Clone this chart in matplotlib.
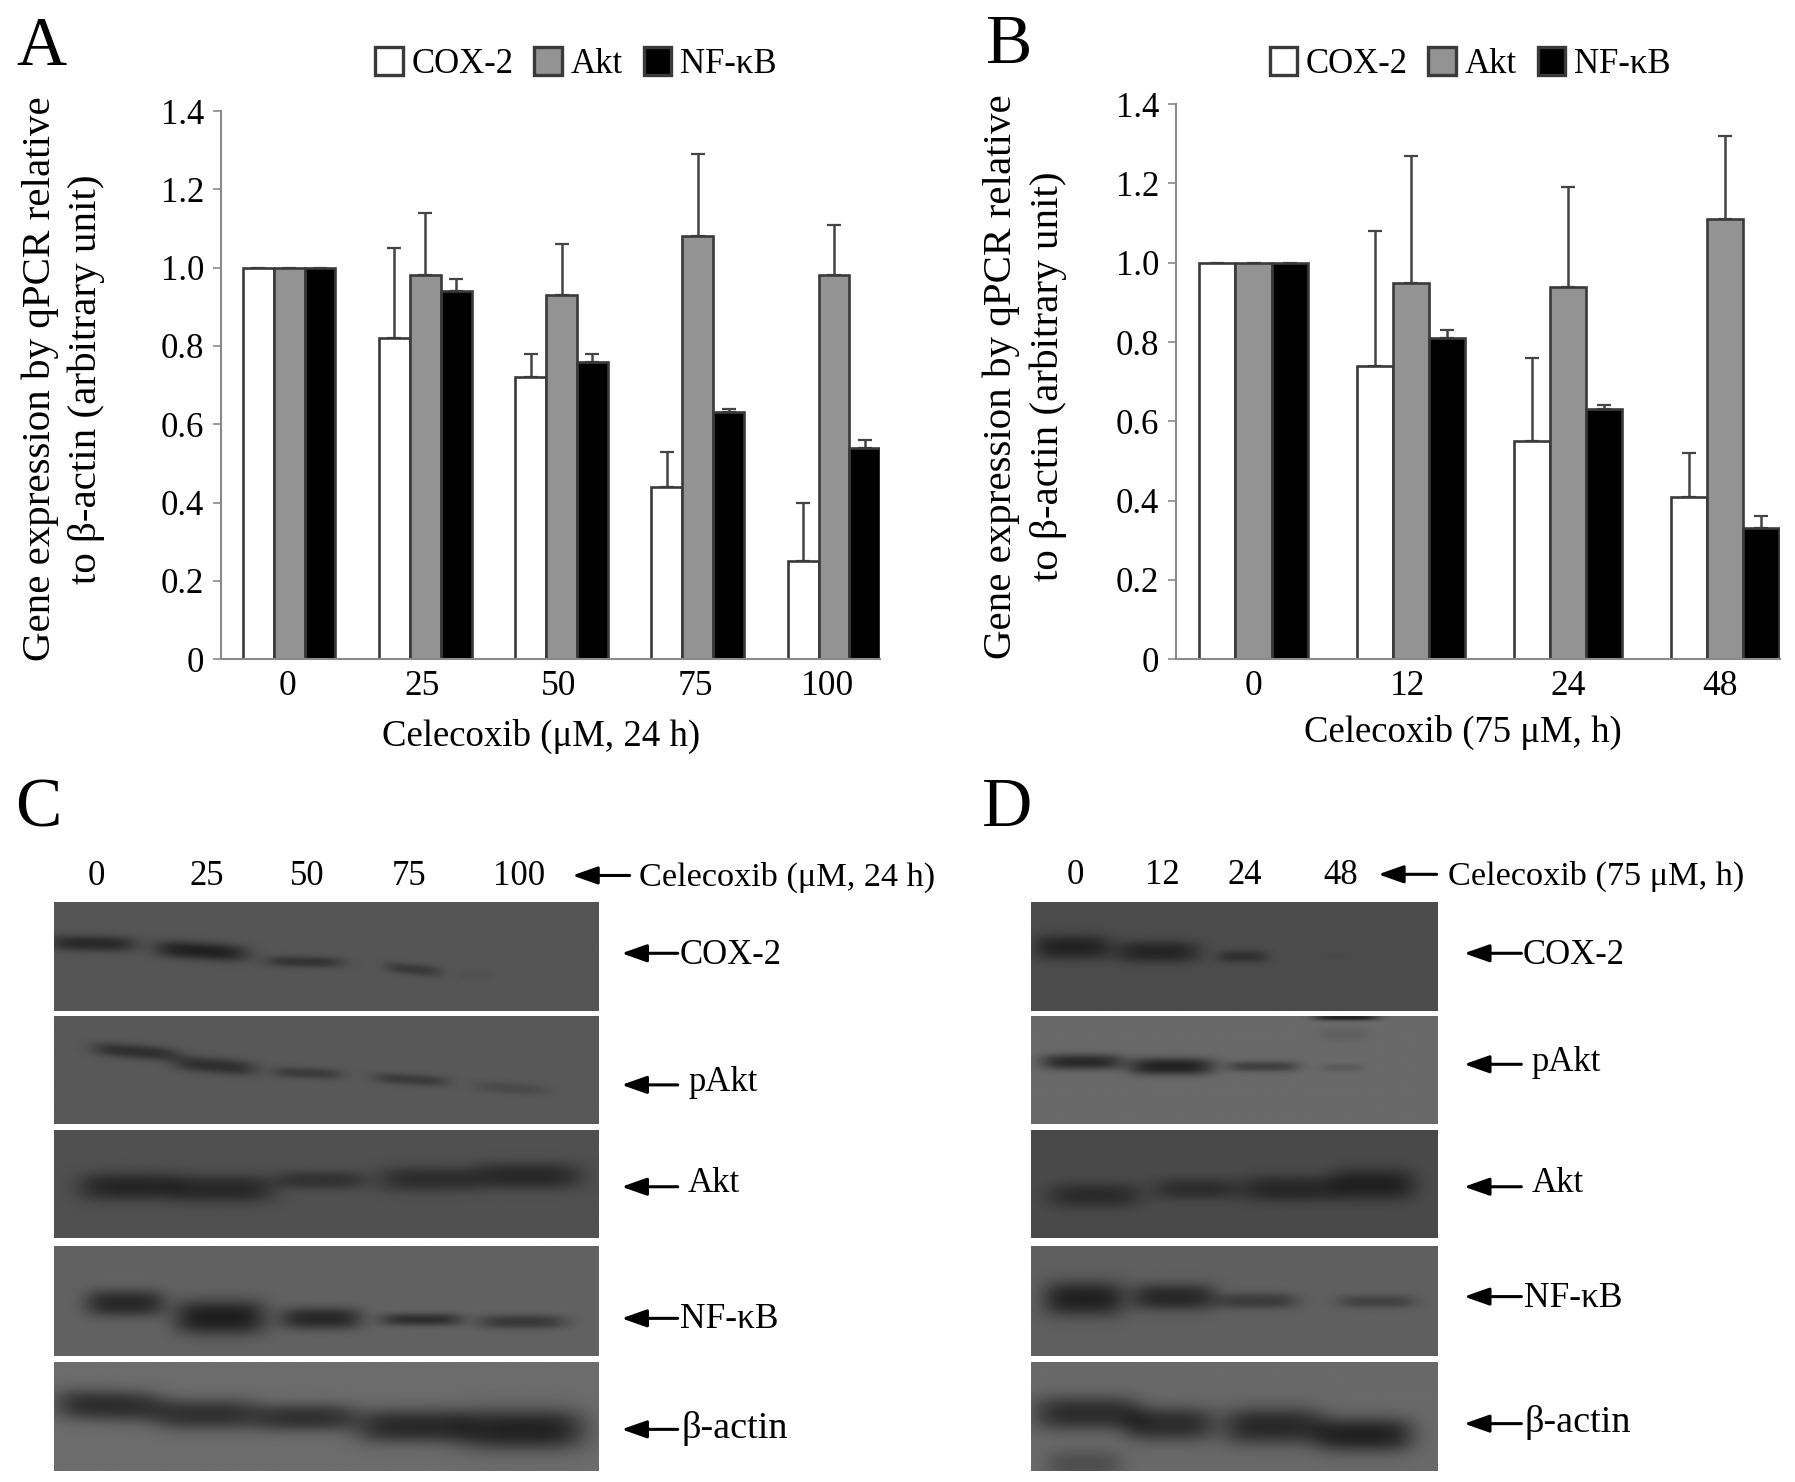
import numpy as np
import matplotlib
matplotlib.use("Agg")
import matplotlib.pyplot as plt

plt.rcParams['font.family'] = ['Liberation Serif', 'DejaVu Serif']

# bar data, panels A and B
doses = ['0', '25', '50', '75', '100']
cox_a = [1.0, 0.82, 0.72, 0.44, 0.25]
akt_a = [1.0, 0.98, 0.93, 1.08, 0.98]
nf_a = [1.0, 0.94, 0.76, 0.63, 0.54]
cox_a_err = [np.nan, 0.23, 0.06, 0.09, 0.15]
akt_a_err = [np.nan, 0.16, 0.13, 0.21, 0.13]
nf_a_err = [np.nan, 0.03, 0.02, 0.01, 0.02]

hours = ['0', '12', '24', '48']
cox_b = [1.0, 0.74, 0.55, 0.41]
akt_b = [1.0, 0.95, 0.94, 1.11]
nf_b = [1.0, 0.81, 0.63, 0.33]
cox_b_err = [np.nan, 0.34, 0.21, 0.11]
akt_b_err = [np.nan, 0.32, 0.25, 0.21]
nf_b_err = [np.nan, 0.02, 0.01, 0.03]

yticks = [0, 0.2, 0.4, 0.6, 0.8, 1.0, 1.2, 1.4]
ytick_labels = ['0', '0.2', '0.4', '0.6', '0.8', '1.0', '1.2', '1.4']
proteins = ['COX-2', 'pAkt', 'Akt', 'NF-κB', 'β-actin']
protein_sizes = [25, 25, 25, 25.5, 27.5]

# blot bands: x, y, half width, half thickness, strength, slope (fractions of the strip)
c_cox = [(.07, .38, .075, .05, .8, .1), (.27, .45, .08, .055, .95, .3), (.46, .55, .068, .035, .6, .1),
         (.66, .62, .048, .035, .5, .5), (.77, .67, .03, .03, .08, 0)]
c_pakt = [(.15, .33, .075, .045, .7, .4), (.295, .46, .072, .05, .7, .4), (.465, .53, .06, .035, .5, .2),
          (.655, .59, .065, .035, .5, .3), (.84, .67, .062, .035, .25, .3)]
c_akt = [(.14, .53, .09, .09, .85, 0), (.31, .55, .09, .09, .8, 0), (.49, .47, .08, .06, .6, 0),
         (.69, .46, .09, .08, .7, 0), (.87, .43, .095, .085, .8, 0)]
c_nf = [(.13, .52, .07, .085, .85, 0), (.305, .65, .08, .11, 1.0, 0), (.49, .66, .072, .07, .85, 0),
        (.675, .67, .072, .04, .75, 0), (.86, .69, .078, .045, .6, 0)]
c_actin = [(.10, .40, .095, .10, .8, .15), (.28, .48, .09, .10, .75, 0), (.46, .51, .09, .09, .75, 0),
           (.66, .59, .10, .11, .85, 0), (.86, .62, .11, .13, .95, 0)]
d_cox = [(.10, .415, .09, .08, .9, 0), (.31, .457, .10, .07, .85, 0), (.52, .50, .06, .04, .6, 0),
         (.75, .50, .025, .02, .08, 0)]
d_pakt = [(.125, .425, .095, .05, .85, 0), (.345, .467, .10, .055, .95, 0), (.57, .467, .085, .035, .55, 0),
          (.765, .48, .05, .025, .2, 0), (.775, .01, .075, .02, .95, 0), (.77, .175, .06, .04, .12, 0)]
d_akt = [(.155, .61, .11, .08, .7, 0), (.405, .55, .10, .07, .65, 0), (.635, .55, .115, .085, .8, 0),
         (.84, .51, .10, .10, .95, 0)]
d_nf = [(.13, .48, .095, .11, .95, 0), (.35, .465, .10, .085, .85, 0), (.555, .50, .095, .05, .55, 0),
        (.85, .505, .09, .04, .45, 0)]
d_actin = [(.135, .47, .125, .11, .8, 0), (.34, .57, .105, .11, .8, 0), (.595, .59, .12, .12, .85, 0),
           (.82, .67, .115, .11, .95, 0), (.13, .94, .09, .09, .35, 0)]
c_bg = [85, 88, 80, 98, 108]
d_bg = [76, 105, 74, 95, 105]

W, H = 1568, 1295  # working units, the saved figure is 1795x1482


def add_axes(fig, x0, y0, x1, y1):
    return fig.add_axes([x0 / W, 1 - y1 / H, (x1 - x0) / W, (y1 - y0) / H])


def draw_bars(ax, labels, tick_pos, cox, akt, nf, cox_err, akt_err, nf_err, step, width, overlay, leg_x):
    x = np.arange(len(labels))
    edge = '#3a3a3a'
    bw = width / step
    series = [(cox, cox_err, 'white', 'COX-2'), (akt, akt_err, '#939393', 'Akt'), (nf, nf_err, 'black', 'NF-κB')]
    handles = []
    for i, (vals, errs, col, name) in enumerate(series):
        pos = x + (i - 1) * bw
        ax.errorbar(pos, vals, yerr=[np.zeros(len(vals)), errs], fmt='none', ecolor='#444444', elinewidth=1.8,
                    capsize=5, capthick=1.6, zorder=1)
        bars = ax.bar(pos, vals, bw, color=col, edgecolor=edge, linewidth=1.9, label=name, zorder=2)
        handles.append(bars)
    ax.set_ylim(0, 1.4)
    ax.set_yticks(yticks)
    ax.set_yticklabels(ytick_labels, fontsize=25)
    ax.set_xticks(tick_pos)
    ax.set_xticklabels(labels, fontsize=25.5)
    ax.tick_params(axis='x', length=0, pad=8)
    ax.tick_params(axis='y', length=6, width=1.2, color='#8a8a8a', pad=6)
    ax.spines['top'].set_visible(False)
    ax.spines['right'].set_visible(False)
    ax.spines['left'].set_color('#8a8a8a')
    ax.spines['bottom'].set_color('#8a8a8a')
    ax.spines['left'].set_linewidth(1.5)
    ax.spines['bottom'].set_linewidth(1.5)
    leg = ax.legend(handles=handles, loc='center left', bbox_to_anchor=(leg_x, 56), bbox_transform=overlay.transData,
                    ncols=3, frameon=False, fontsize=25, handlelength=0.78, handleheight=0.88, handletextpad=0.26,
                    columnspacing=0.6, borderpad=0, borderaxespad=0)
    for h in leg.get_patches():
        h.set_linewidth(2.4)


def draw_blot(ax, bands, bg):
    # 2D darkness built from the band list, then shown as a grey image
    ny, nx = 160, 400
    xx, yy = np.meshgrid(np.linspace(0, 1, nx), np.linspace(0, 1, ny))
    dark = np.zeros_like(xx)
    for cx, cy, hw, ht, s, slope in bands:
        dy = yy - cy - slope * (xx - cx)
        dark += s * np.exp(-np.abs((xx - cx) / (hw * 1.05)) ** 4) * np.exp(-np.abs(dy / (ht * 1.45)) ** 2.4)
    dark = np.clip(dark, 0, 1)
    img = bg - (bg - 30) * dark
    ax.imshow(img, cmap='gray', vmin=0, vmax=255, aspect='auto', interpolation='bilinear')
    ax.axis('off')


def arrow(overlay, x_from, x_to, y):
    overlay.annotate('', xy=(x_to, y), xytext=(x_from, y),
                     arrowprops=dict(arrowstyle='-|>,head_length=0.85,head_width=0.3', color='black', lw=2.2,
                                     shrinkA=0, shrinkB=0, mutation_scale=18))


fig = plt.figure(figsize=(17.95, 14.82), dpi=100, facecolor='white')

overlay = fig.add_axes([0, 0, 1, 1], zorder=5)
overlay.set_xlim(0, W)
overlay.set_ylim(H, 0)
overlay.axis('off')

# panel A
step_a = 119.0
ax_a = add_axes(fig, 193, 97, 769, 576)
ax_a.set_xlim((193 - 252.5) / step_a, (769 - 252.5) / step_a)
draw_bars(ax_a, doses, [-0.01, 0.98, 1.98, 2.98, 3.95], cox_a, akt_a, nf_a, cox_a_err, akt_a_err, nf_a_err,
          step_a, 27.0, overlay, 328)
ax_a.set_ylabel('Gene expression by qPCR relative\nto β-actin (arbitrary unit)', fontsize=29.5, linespacing=1.32)
ax_a.yaxis.set_label_coords(92, 331, transform=overlay.transData)
ax_a.set_xlabel('Celecoxib (μM, 24 h)', fontsize=26.5)
ax_a.xaxis.set_label_coords(473, 628, transform=overlay.transData)

# panel B
step_b = 137.3
ax_b = add_axes(fig, 1027, 91, 1555, 576)
ax_b.set_xlim((1027 - 1095) / step_b, (1555 - 1095) / step_b)
draw_bars(ax_b, hours, [0, 0.98, 2, 2.97], cox_b, akt_b, nf_b, cox_b_err, akt_b_err, nf_b_err,
          step_b, 31.5, overlay, 1109)
ax_b.set_ylabel('Gene expression by qPCR relative\nto β-actin (arbitrary unit)', fontsize=29.5, linespacing=1.32)
ax_b.yaxis.set_label_coords(932, 329, transform=overlay.transData)
ax_b.set_xlabel('Celecoxib (75 μM, h)', fontsize=26.5)
ax_b.xaxis.set_label_coords(1278, 625, transform=overlay.transData)

# blots
rows = [(788, 883), (888, 982), (987, 1082), (1089, 1185), (1190, 1285)]
c_bands = [c_cox, c_pakt, c_akt, c_nf, c_actin]
d_bands = [d_cox, d_pakt, d_akt, d_nf, d_actin]
for (y0, y1), bands, bg in zip(rows, c_bands, c_bg):
    draw_blot(add_axes(fig, 47, y0, 523, y1), bands, bg)
for (y0, y1), bands, bg in zip(rows, d_bands, d_bg):
    draw_blot(add_axes(fig, 901, y0, 1256, y1), bands, bg)

# panel letters
for letter, x, y in [('A', 14, 57), ('B', 861, 55), ('C', 13, 722), ('D', 858, 722)]:
    overlay.text(x, y, letter, fontsize=50, va='baseline', ha='left')

# lane labels
for lab, x in zip(doses, [84, 181, 268, 357, 453]):
    overlay.text(x, 766, lab, fontsize=25, ha='center', va='center')
for lab, x in zip(hours, [939, 1015, 1087, 1171]):
    overlay.text(x, 765, lab, fontsize=25, ha='center', va='center')
overlay.text(558, 767, 'Celecoxib (μM, 24 h)', fontsize=24.7, ha='left', va='center')
overlay.text(1265, 766, 'Celecoxib (75 μM, h)', fontsize=24.7, ha='left', va='center')
arrow(overlay, 550, 500, 765)
arrow(overlay, 1255, 1204, 764)

c_arrow_y = [833, 948, 1037, 1152, 1249]
c_text_y = [835, 946, 1034, 1153, 1248]
c_text_x = [594, 601, 601, 594, 595]
d_arrow_y = [833, 930, 1037, 1133, 1244]
d_text_y = [835, 928, 1034, 1135, 1243]
d_text_x = [1330, 1338, 1338, 1331, 1332]
for name, size, ay, ty, tx in zip(proteins, protein_sizes, c_arrow_y, c_text_y, c_text_x):
    arrow(overlay, 592, 543, ay)
    overlay.text(tx, ty, name, fontsize=size, ha='left', va='center')
for name, size, ay, ty, tx in zip(proteins, protein_sizes, d_arrow_y, d_text_y, d_text_x):
    arrow(overlay, 1329, 1279, ay)
    overlay.text(tx, ty, name, fontsize=size, ha='left', va='center')

fig.savefig('out.png', dpi=100, facecolor='white')
